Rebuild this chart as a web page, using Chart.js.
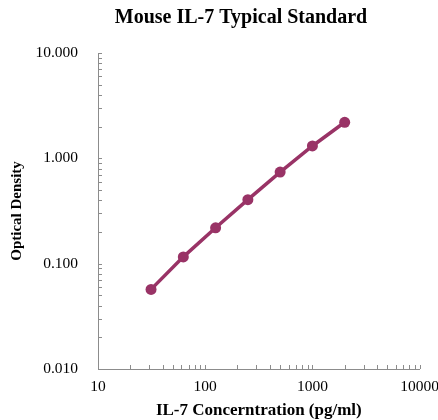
<!DOCTYPE html>
<html>
<head>
<meta charset="utf-8">
<script src="https://cdn.jsdelivr.net/npm/chart.js@4.4.1/dist/chart.umd.min.js"></script>
<style>
  html, body { margin: 0; padding: 0; background: #fff; overflow: hidden; }
  #wrap { width: 448px; height: 421px; position: relative; }
</style>
</head>
<body>
<div id="wrap"><canvas id="c"></canvas></div>
<script>
// standard curve values
const concentrations = [31.25, 62.5, 125, 250, 500, 1000, 2000];
const odValues = [0.057, 0.116, 0.219, 0.405, 0.74, 1.31, 2.2];

const xTickValues = [10, 20, 30, 40, 50, 60, 70, 80, 90, 100, 200, 300, 400, 500, 600, 700, 800, 900,
  1000, 2000, 3000, 4000, 5000, 6000, 7000, 8000, 9000, 10000];
const yTickValues = [0.01, 0.02, 0.03, 0.04, 0.05, 0.06, 0.07, 0.08, 0.09, 0.1, 0.2, 0.3, 0.4, 0.5, 0.6, 0.7, 0.8, 0.9,
  1, 2, 3, 4, 5, 6, 7, 8, 9, 10];
const xLabels = { 10: '10', 100: '100', 1000: '1000', 10000: '10000' };
const yLabels = { 0.01: '0.010', 0.1: '0.100', 1: '1.000', 10: '10.000' };

const serif = "'Liberation Serif', 'Times New Roman', serif";
const plum = '#993366';
const axisGray = '#8c8c8c';

// small tick marks pointing into the plot, like the spreadsheet original
const insideTicks = {
  id: 'insideTicks',
  afterLayout(chart) {
    // the original title sits a bit right of the page centre
    const t = chart.titleBlock;
    if (t) { t.left += 13; t.right += 13; }
  },
  afterDraw(chart) {
    const ctx = chart.ctx;
    const xs = chart.scales.x, ys = chart.scales.y;
    const len = 4;
    ctx.save();
    ctx.strokeStyle = axisGray;
    ctx.lineWidth = 1;
    ctx.beginPath();
    xTickValues.forEach(v => {
      const px = Math.round(xs.getPixelForValue(v)) + 0.5;
      ctx.moveTo(px, ys.bottom);
      ctx.lineTo(px, ys.bottom - len);
    });
    yTickValues.forEach(v => {
      const py = Math.round(ys.getPixelForValue(v)) + 0.5;
      ctx.moveTo(xs.left, py);
      ctx.lineTo(xs.left + len, py);
    });
    ctx.stroke();
    ctx.restore();
  }
};

new Chart(document.getElementById('c'), {
  type: 'scatter',
  data: {
    datasets: [{
      data: concentrations.map((x, i) => ({ x: x, y: odValues[i] })),
      showLine: true,
      borderColor: plum,
      backgroundColor: plum,
      borderWidth: 3.5,
      pointRadius: 5.5,
      pointHoverRadius: 5.5,
      pointBorderWidth: 0
    }]
  },
  options: {
    responsive: true,
    maintainAspectRatio: false,
    animation: false,
    layout: { padding: { left: 8, right: 0, top: 0, bottom: 0 } },
    plugins: {
      legend: { display: false },
      tooltip: { enabled: false },
      title: {
        display: true,
        text: 'Mouse IL-7 Typical Standard',
        color: '#000',
        font: { family: serif, size: 20, weight: 'bold' },
        padding: { top: 6, bottom: 23 }
      }
    },
    scales: {
      x: {
        type: 'logarithmic',
        min: 10,
        max: 10000,
        afterBuildTicks: s => { s.ticks = xTickValues.map(v => ({ value: v })); },
        afterFit: s => { s.height = 52; },
        ticks: {
          autoSkip: false,
          maxRotation: 0,
          padding: 9,
          color: '#000',
          font: { family: serif, size: 15.5 },
          callback: v => xLabels[v] || ''
        },
        grid: { display: true, drawOnChartArea: false, drawTicks: false },
        border: { display: true, color: axisGray, width: 1 },
        title: {
          display: true,
          text: 'IL-7 Concerntration (pg/ml)',
          color: '#000',
          font: { family: serif, size: 17, weight: 'bold' },
          padding: { top: 5, bottom: 0 }
        }
      },
      y: {
        type: 'logarithmic',
        min: 0.01,
        max: 10,
        afterBuildTicks: s => { s.ticks = yTickValues.map(v => ({ value: v })); },
        afterFit: s => { s.width = 90; },
        ticks: {
          autoSkip: false,
          padding: 20,
          color: '#000',
          font: { family: serif, size: 15.5 },
          callback: v => yLabels[v] || ''
        },
        grid: { display: true, drawOnChartArea: false, drawTicks: false },
        border: { display: true, color: axisGray, width: 1 },
        title: {
          display: true,
          text: 'Optical Density',
          color: '#000',
          font: { family: serif, size: 15, weight: 'bold' },
          padding: { top: 0, bottom: 9 }
        }
      }
    }
  },
  plugins: [insideTicks]
});
</script>
</body>
</html>
